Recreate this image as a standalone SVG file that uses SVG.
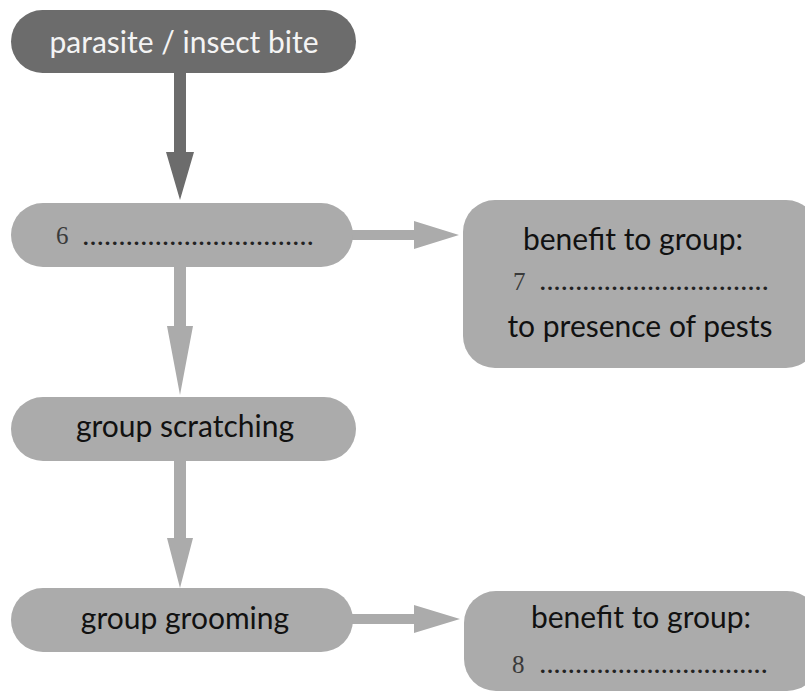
<svg xmlns="http://www.w3.org/2000/svg" width="805" height="695" viewBox="0 0 805 695">
<style>
.lbl{font-family:Lato,"Open Sans","Liberation Sans",sans-serif;font-size:30px;fill:#111;text-anchor:middle}
.num{font-family:"Liberation Serif","DejaVu Serif",serif;font-size:25px;fill:#3a3a3a}
.dots{font-family:"Liberation Serif","DejaVu Serif",serif;font-size:22px;fill:#222;font-weight:bold}
.light{fill:#ababab}
.dark{fill:#6c6c6c}
</style>
<rect width="805" height="695" fill="#ffffff"/>
<g id="connectors">
  <path class="dark" d="M174 72 H186 V152 H194 L180 200 L166 152 H174 Z"/>
  <path class="light" d="M174 266 H186 V326 H193 L180 395 L167 326 H174 Z"/>
  <path class="light" d="M174 460 H186 V538 H193 L180 588 L167 538 H174 Z"/>
  <path class="light" d="M352 230 H414 V221 L459 235 L414 249 V240 H352 Z"/>
  <path class="light" d="M352 614 H414 V605 L460 619 L414 633 V624 H352 Z"/>
</g>
<g id="node-bite">
  <rect class="dark" x="11" y="10" width="345" height="63" rx="31.5"/>
  <text class="lbl" x="184" y="53" style="fill:#f4f4f4">parasite / insect bite</text>
</g>
<g id="node-6">
  <rect class="light" x="11" y="203" width="342" height="64" rx="32"/>
  <text class="num" x="56" y="244">6</text>
  <text class="dots" x="83" y="245" textLength="230" lengthAdjust="spacing">................................</text>
</g>
<g id="node-7">
  <rect class="light" x="463" y="200" width="355" height="168" rx="32"/>
  <text class="lbl" x="633" y="250">benefit to group:</text>
  <text class="num" x="513" y="290">7</text>
  <text class="dots" x="540" y="290" textLength="228" lengthAdjust="spacing">................................</text>
  <text class="lbl" x="640" y="337">to presence of pests</text>
</g>
<g id="node-scratching">
  <rect class="light" x="11" y="397" width="345" height="64" rx="32"/>
  <text class="lbl" x="185" y="437">group scratching</text>
</g>
<g id="node-grooming">
  <rect class="light" x="11" y="588" width="342" height="64" rx="32"/>
  <text class="lbl" x="185" y="629">group grooming</text>
</g>
<g id="node-8">
  <rect class="light" x="464" y="591" width="355" height="100" rx="32"/>
  <text class="lbl" x="641" y="628">benefit to group:</text>
  <text class="num" x="512" y="673">8</text>
  <text class="dots" x="540" y="673" textLength="227" lengthAdjust="spacing">................................</text>
</g>
</svg>
